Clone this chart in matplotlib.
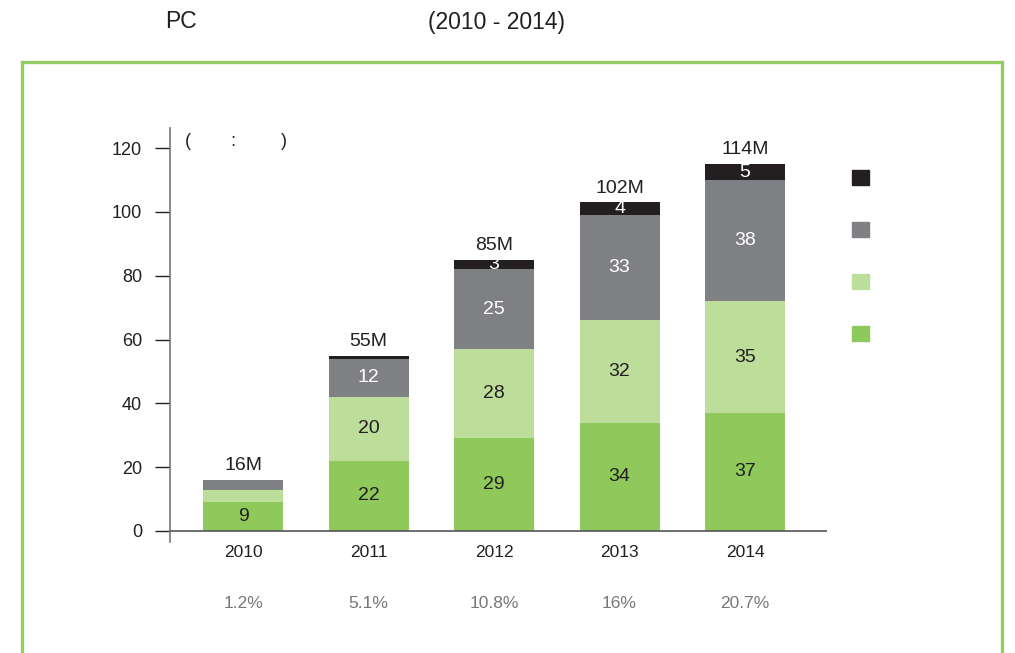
#!/usr/bin/env python3
"""Stacked bars, 2010-2014, with totals and share row."""
import matplotlib
matplotlib.use("Agg")
import matplotlib.pyplot as plt
from matplotlib.patches import Rectangle, Patch
import numpy as np

plt.rcParams["font.family"] = ["Liberation Sans", "DejaVu Sans"]

years = ["2010", "2011", "2012", "2013", "2014"]
seg_green = [9, 22, 29, 34, 37]
seg_light = [4, 20, 28, 32, 35]
seg_gray = [3, 12, 25, 33, 38]
seg_black = [0, 1, 3, 4, 5]
totals = ["16M", "55M", "85M", "102M", "114M"]
shares = ["1.2%", "5.1%", "10.8%", "16%", "20.7%"]

# which segments carry a printed value
show_green = [True] * 5
show_light = [False, True, True, True, True]
show_gray = [False, True, True, True, True]
show_black = [False, False, True, True, True]

C_GREEN = "#8fc95c"
C_LIGHT = "#bddd9a"
C_GRAY = "#7f8084"
C_BLACK = "#231f20"
C_FRAME = "#95cb63"
C_TEXT = "#231f20"

W, H = 1015, 653
fig = plt.figure(figsize=(W / 100, H / 100), dpi=100)
ax = fig.add_axes([170 / W, (H - 542) / H, (827 - 170) / W, (542 - 128) / H])

x = np.arange(len(years))
width = 0.637
series = [
    (seg_green, C_GREEN, C_TEXT, show_green),
    (seg_light, C_LIGHT, C_TEXT, show_light),
    (seg_gray, C_GRAY, "white", show_gray),
    (seg_black, C_BLACK, "white", show_black),
]
bottom = np.zeros(len(years))
for vals, col, tcol, show in series:
    vals = np.array(vals, dtype=float)
    ax.bar(x, vals, width, bottom=bottom, color=col, linewidth=0)
    for i, v in enumerate(vals):
        if show[i]:
            ax.text(x[i], bottom[i] + v / 2, f"{int(v)}", ha="center",
                    va="center", fontsize=14, color=tcol)
    bottom += vals

for i, t in enumerate(totals):
    ax.annotate(t, (x[i], bottom[i]), xytext=(0, 4), textcoords="offset points",
                ha="center", va="bottom", fontsize=14, color=C_TEXT)

ax.set_xlim(-0.582, 4.653)
ax.set_ylim(-3.45, 126.3)
ax.set_yticks(range(0, 121, 20))
ax.tick_params(axis="y", length=11, width=1, color="#231f20", labelsize=13,
               labelcolor=C_TEXT, pad=9)
ax.set_xticks([])
for s in ["top", "right", "bottom"]:
    ax.spines[s].set_visible(False)
ax.spines["left"].set_color("#777777")
ax.spines["left"].set_linewidth(1.2)
ax.axhline(0, color="#555555", linewidth=1.2, zorder=3)

for i in range(len(years)):
    ax.text(x[i], -6.6, years[i], ha="center", va="center", fontsize=12.5,
            color=C_TEXT, clip_on=False)
    ax.text(x[i], -22.6, shares[i], ha="center", va="center", fontsize=12.5,
            color="#777777", clip_on=False)

ax.text(-0.46, 122, "(        :         )", ha="left", va="center",
        fontsize=13, color=C_TEXT)

handles = [Patch(color=c) for c in [C_BLACK, C_GRAY, C_LIGHT, C_GREEN]]
fig.legend(handles, [" "] * 4, loc="upper left",
           bbox_to_anchor=(852 / W, (H - 170) / H), frameon=False,
           handlelength=1.0, handleheight=1.0, fontsize=12, borderpad=0,
           handletextpad=0.3, labelspacing=2.15, borderaxespad=0)

fig.add_artist(Rectangle((22 / W, -0.02), (1002 - 22) / W, (H - 62) / H + 0.02,
                         transform=fig.transFigure, fill=False,
                         edgecolor=C_FRAME, linewidth=2.4))

fig.text(165 / W, (H - 22) / H, "PC", fontsize=16.5, ha="left", va="center",
         color=C_TEXT)
fig.text(428 / W, (H - 22) / H, "(2010 - 2014)", fontsize=16.5, ha="left",
         va="center", color=C_TEXT)

fig.savefig("out.png", dpi=100)
